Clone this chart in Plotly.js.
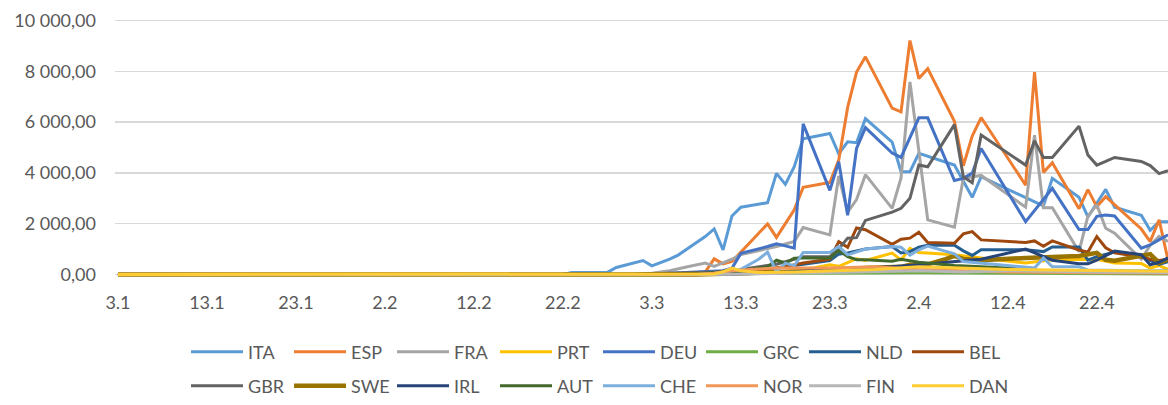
<!DOCTYPE html>
<html><head><meta charset="utf-8">
<script src="https://cdn.plot.ly/plotly-3.0.1.min.js"></script>
<style>html,body{margin:0;padding:0;background:#fff;}#chart{width:1168px;height:405px;}</style>
</head><body><div id="chart"></div>
<script>
// ---- data (dates as d.m in 2020, daily values) ----
const countries = ["ITA","ESP","FRA","PRT","DEU","GRC","NLD","BEL","GBR","SWE","IRL","AUT","CHE","NOR","FIN","DAN"];
const tickLabels = ["3.1","13.1","23.1","2.2","12.2","22.2","3.3","13.3","23.3","2.4","12.4","22.4"];
const yTicks = [0,2000,4000,6000,8000,10000];

const ITA_dates = ["3.1","22.2","23.2","25.2","27.2","28.2","2.3","3.3","5.3","6.3","9.3","10.3","11.3","12.3","13.3","16.3","17.3","18.3","19.3","20.3","21.3","23.3","24.3","25.3","26.3","27.3","30.3","31.3","1.4","2.4","6.4","8.4","9.4","16.4","17.4","20.4","21.4","23.4","24.4","27.4","28.4","29.4","30.4"];
const ITA_values = [0,0,80,90,80,275,550,342,605,773,1492,1794,970,2305,2646,2827,3980,3549,4240,5340,5418,5552,4750,5222,5190,6140,5210,4044,4044,4766,4307,3039,3848,2697,3785,3039,2265,3353,2646,2330,1740,2075,2075];

const ESP_dates = ["3.1","8.3","9.3","10.3","11.3","12.3","16.3","17.3","19.3","20.3","23.3","24.3","25.3","26.3","27.3","30.3","31.3","1.4","2.4","3.4","6.4","7.4","8.4","9.4","14.4","15.4","16.4","17.4","20.4","21.4","22.4","23.4","27.4","28.4","29.4","30.4"];
const ESP_values = [0,0,100,616,420,510,1990,1460,2550,3431,3620,4503,6580,7970,8570,6550,6400,9215,7715,8104,6030,4280,5450,6180,3515,7972,4020,4397,2590,3340,2672,3063,1790,1296,2148,578];

const FRA_dates = ["3.1","1.3","3.3","5.3","7.3","9.3","10.3","11.3","12.3","13.3","17.3","19.3","20.3","23.3","24.3","25.3","26.3","27.3","30.3","31.3","1.4","3.4","6.4","7.4","9.4","14.4","15.4","16.4","17.4","20.4","21.4","22.4","23.4","24.4","27.4","28.4","29.4","30.4"];
const FRA_values = [0,0,50,150,300,447,320,450,600,780,1100,1300,1845,1560,3880,2450,2950,3930,2600,3800,7580,2150,1860,3785,3900,2650,5490,2630,2630,900,2300,2740,1820,1625,600,1150,1500,1300];

const PRT_dates = ["3.1","3.3","13.3","18.3","21.3","23.3","24.3","26.3","27.3","30.3","31.3","1.4","2.4","3.4","6.4","9.4","14.4","17.4","20.4","22.4","24.4","27.4","28.4","29.4","30.4"];
const PRT_values = [0,0,50,120,250,380,320,620,550,840,570,1030,860,840,780,650,450,580,580,600,450,430,250,350,200];

const DEU_dates = ["3.1","3.3","5.3","9.3","11.3","12.3","13.3","16.3","17.3","18.3","19.3","20.3","23.3","24.3","25.3","26.3","27.3","30.3","31.3","2.4","3.4","6.4","7.4","8.4","9.4","14.4","17.4","20.4","21.4","22.4","23.4","24.4","27.4","28.4","29.4","30.4"];
const DEU_values = [0,0,50,100,150,250,830,1100,1205,1127,1036,5930,3310,4437,2330,4962,5780,4780,4609,6170,6170,3700,3785,3990,4962,2081,3392,1770,1770,2290,2344,2305,1036,1166,1362,1559];

const GRC_dates = ["3.1","8.3","12.3","23.3","2.4","12.4","22.4","30.4"];
const GRC_values = [0,0,30,60,70,50,30,20];

const NLD_dates = ["3.1","5.3","10.3","13.3","16.3","20.3","23.3","24.3","25.3","27.3","30.3","31.3","1.4","2.4","3.4","6.4","7.4","8.4","9.4","14.4","16.4","17.4","20.4","21.4","22.4","24.4","27.4","28.4","29.4","30.4"];
const NLD_values = [0,0,50,100,200,400,550,800,850,1000,1100,850,900,1070,1150,1150,930,750,970,970,900,1080,1080,560,700,880,750,550,400,500];

const BEL_dates = ["3.1","3.3","10.3","13.3","18.3","20.3","22.3","23.3","24.3","25.3","26.3","27.3","30.3","31.3","1.4","2.4","3.4","6.4","7.4","8.4","9.4","14.4","15.4","16.4","17.4","20.4","21.4","22.4","23.4","24.4","27.4","28.4","29.4","30.4"];
const BEL_values = [0,0,50,100,300,450,550,600,1290,1070,1830,1760,1190,1390,1430,1665,1257,1230,1598,1690,1362,1257,1320,1110,1320,960,880,1492,1050,850,690,600,550,600];

const GBR_dates = ["3.1","1.3","5.3","10.3","13.3","17.3","20.3","23.3","24.3","25.3","26.3","27.3","30.3","31.3","1.4","2.4","3.4","6.4","7.4","8.4","9.4","14.4","15.4","16.4","17.4","20.4","21.4","22.4","23.4","24.4","27.4","28.4","29.4","30.4"];
const GBR_values = [0,0,50,100,200,400,700,700,1000,1430,1450,2130,2454,2607,3000,4307,4240,5900,3848,3612,5490,4307,5261,4609,4609,5842,4700,4307,4450,4609,4450,4290,3970,4084];

const SWE_dates = ["3.1","8.3","13.3","23.3","27.3","31.3","1.4","3.4","5.4","6.4","7.4","9.4","14.4","17.4","20.4","22.4","23.4","24.4","27.4","28.4","29.4","30.4"];
const SWE_values = [0,0,50,150,250,300,380,400,600,730,610,560,650,680,730,850,580,540,730,800,460,580];

const IRL_dates = ["3.1","10.3","16.3","23.3","27.3","30.3","2.4","6.4","9.4","14.4","16.4","17.4","20.4","21.4","22.4","24.4","27.4","28.4","29.4","30.4"];
const IRL_values = [0,0,50,200,250,300,380,500,600,1000,700,560,420,420,560,920,780,380,480,650];

const AUT_dates = ["3.1","8.3","9.3","13.3","16.3","17.3","18.3","19.3","20.3","23.3","24.3","25.3","26.3","27.3","30.3","31.3","2.4","6.4","9.4","12.4","16.4","22.4","30.4"];
const AUT_values = [0,0,50,150,300,560,450,640,650,650,950,700,580,580,520,600,480,350,300,250,150,80,60];

const CHE_dates = ["3.1","8.3","10.3","13.3","15.3","16.3","17.3","18.3","19.3","20.3","23.3","24.3","25.3","27.3","30.3","31.3","1.4","2.4","3.4","6.4","7.4","9.4","14.4","15.4","16.4","17.4","20.4","21.4","27.4","30.4"];
const CHE_values = [0,0,50,200,600,880,100,447,340,864,864,1100,773,1000,1100,1070,760,970,1120,810,512,450,290,250,650,300,300,180,150,150];

const NOR_dates = ["3.1","8.3","10.3","12.3","14.3","17.3","23.3","28.3","2.4","7.4","12.4","22.4","30.4"];
const NOR_values = [0,0,50,150,200,250,250,300,200,150,100,70,50];

const FIN_dates = ["3.1","10.3","15.3","23.3","28.3","2.4","7.4","12.4","22.4","30.4"];
const FIN_values = [0,0,30,80,100,150,100,150,100,80];

const DAN_dates = ["3.1","8.3","10.3","11.3","12.3","13.3","15.3","19.3","23.3","28.3","2.4","7.4","12.4","17.4","22.4","30.4"];
const DAN_values = [0,0,20,100,250,150,80,100,150,200,300,250,200,180,150,130];

// ---- styling ----
const colors = {ITA:"#5B9BD5",ESP:"#ED7D31",FRA:"#A5A5A5",PRT:"#FFC000",DEU:"#4472C4",GRC:"#70AD47",NLD:"#255E91",BEL:"#9E480E",GBR:"#636363",SWE:"#997300",IRL:"#264478",AUT:"#43682B",CHE:"#7CAFDD",NOR:"#F1975A",FIN:"#B7B7B7",DAN:"#FFCD33"};
const seriesData = {ITA:[ITA_dates,ITA_values],ESP:[ESP_dates,ESP_values],FRA:[FRA_dates,FRA_values],PRT:[PRT_dates,PRT_values],DEU:[DEU_dates,DEU_values],GRC:[GRC_dates,GRC_values],NLD:[NLD_dates,NLD_values],BEL:[BEL_dates,BEL_values],GBR:[GBR_dates,GBR_values],SWE:[SWE_dates,SWE_values],IRL:[IRL_dates,IRL_values],AUT:[AUT_dates,AUT_values],CHE:[CHE_dates,CHE_values],NOR:[NOR_dates,NOR_values],FIN:[FIN_dates,FIN_values],DAN:[DAN_dates,DAN_values]};

function toISO(s){const p=s.split('.');return '2020-'+p[1].padStart(2,'0')+'-'+p[0].padStart(2,'0');}

const FONT = "Lato, 'Open Sans', sans-serif";
const TXT = "#595959";

const traces = countries.map((c,i)=>({
  type:'scatter', mode:'lines', name:c,
  x: seriesData[c][0].map(toISO), y: seriesData[c][1],
  line:{color:colors[c], width: c==='SWE'?4.5:3},
  legend: i<8 ? 'legend' : 'legend2',
  hoverinfo:'skip'
}));

const legendCommon = {orientation:'h', xref:'container', yref:'container', xanchor:'left', yanchor:'middle',
  font:{family:FONT,size:18,color:TXT}, entrywidth:36, entrywidthmode:'pixels', itemwidth:52,
  bgcolor:'rgba(0,0,0,0)', traceorder:'normal', itemclick:false};

const layout = {
  width:1168, height:405,
  margin:{l:115, r:0, t:18, b:128, pad:0},
  paper_bgcolor:'#fff', plot_bgcolor:'#fff',
  separators:', ',
  showlegend:true,
  font:{family:FONT, color:TXT},
  xaxis:{type:'date', range:['2020-01-02 16:00','2020-04-30'], tickvals:tickLabels.map(toISO), ticktext:tickLabels,
    showgrid:false, zeroline:false, showline:false, ticks:'', tickfont:{family:FONT,size:18,color:TXT}, ticklabelstandoff:13, fixedrange:true},
  yaxis:{range:[-100,10100], tickvals:yTicks, tickformat:',.2f', showgrid:true, gridcolor:'#D9D9D9', gridwidth:1.3,
    zeroline:false, showline:false, ticks:'', tickfont:{family:FONT,size:18,color:TXT}, ticklabelstandoff:18, fixedrange:true},
  legend:Object.assign({x:186/1168, y:1-352/405}, legendCommon),
  legend2:Object.assign({x:186/1168, y:1-386/405}, legendCommon)
};

Plotly.newPlot('chart', traces, layout, {displayModeBar:false, staticPlot:true});
</script></body></html>
